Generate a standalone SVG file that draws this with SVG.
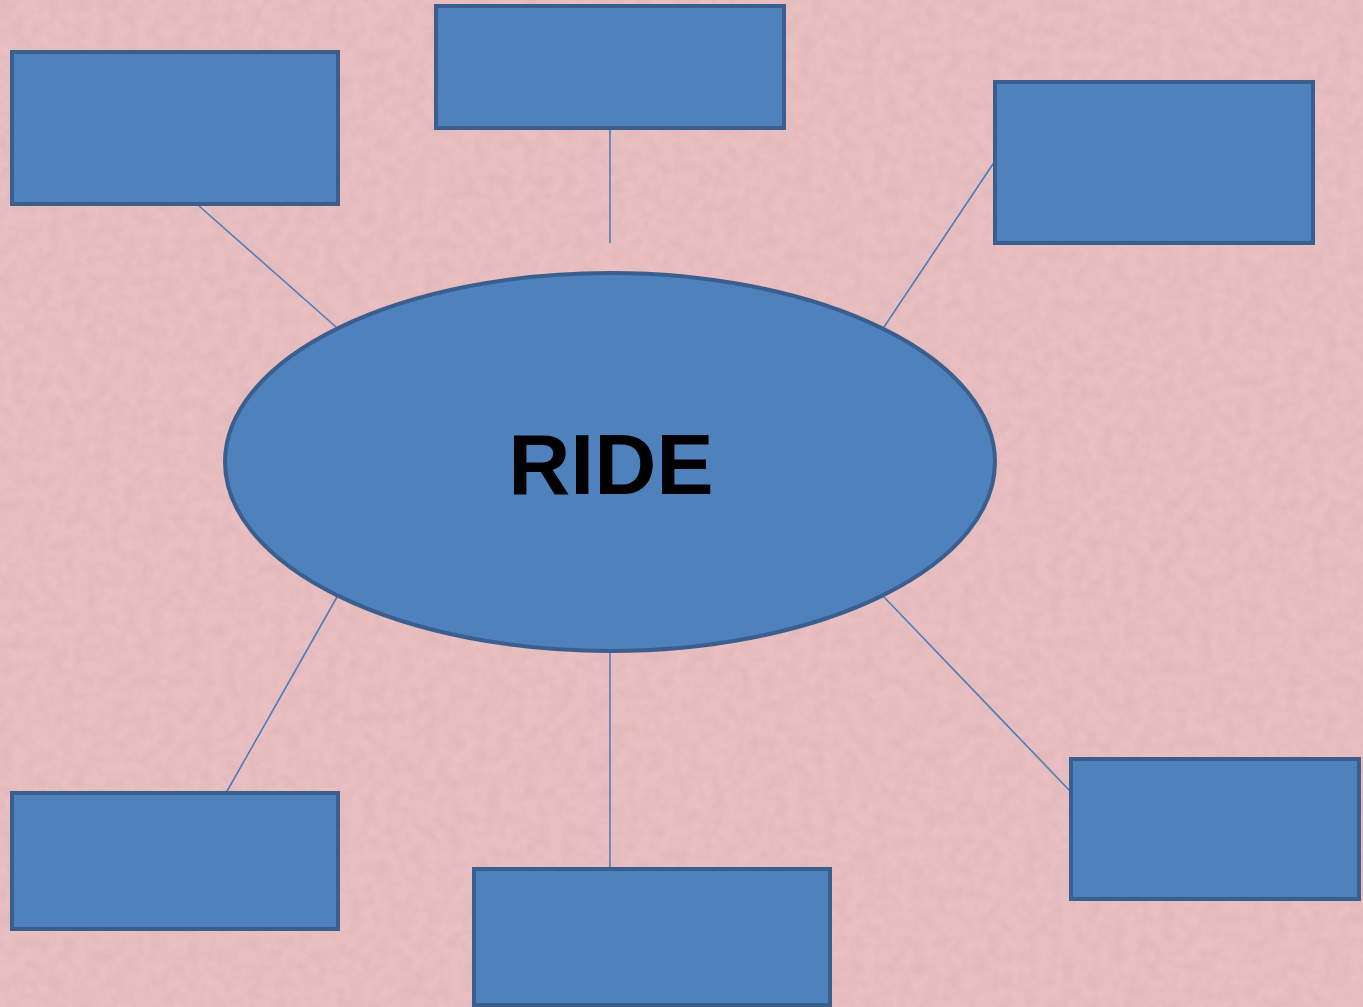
<svg xmlns="http://www.w3.org/2000/svg" width="1363" height="1007" viewBox="0 0 1363 1007">
  <style>
    .box { fill: #4f81bd; stroke: #3a5f8f; stroke-width: 4; }
    .hub { fill: #4f81bd; stroke: #3a5f8f; stroke-width: 4; }
    .link { stroke: #4a7ebb; stroke-width: 1.6; fill: none; }
    .label { font-family: "Liberation Sans", Arial, sans-serif; font-weight: bold; font-size: 86px; fill: #000; }
  </style>
  <defs>
    <filter id="paper" x="0" y="0" width="100%" height="100%">
      <feTurbulence type="fractalNoise" baseFrequency="0.08" numOctaves="3" seed="4" result="n"/>
      <feColorMatrix type="matrix" values="0 0 0 0 0.55  0 0 0 0 0.35  0 0 0 0 0.37  0 0 0 -1.1 0.75" in="n"/>
    </filter>
  </defs>
  <rect x="0" y="0" width="1363" height="1007" fill="#e9bfc1"/>
  <rect x="0" y="0" width="1363" height="1007" filter="url(#paper)" opacity="0.35"/>
  <g id="connectors">
    <line class="link" x1="198" y1="205" x2="336" y2="327"/>
    <line class="link" x1="610" y1="128" x2="610" y2="243"/>
    <line class="link" x1="995" y1="161" x2="884" y2="327"/>
    <line class="link" x1="884" y1="597" x2="1070" y2="791"/>
    <line class="link" x1="610" y1="652" x2="610" y2="869"/>
    <line class="link" x1="337" y1="597" x2="226" y2="793"/>
  </g>
  <g id="hub">
    <ellipse class="hub" cx="610" cy="462" rx="385" ry="189"/>
    <text class="label" x="611" y="494" text-anchor="middle">RIDE</text>
  </g>
  <g id="box-top-left"><rect class="box" x="12" y="52" width="326" height="152"/></g>
  <g id="box-top"><rect class="box" x="436" y="6" width="348" height="122"/></g>
  <g id="box-top-right"><rect class="box" x="995" y="82" width="318" height="161"/></g>
  <g id="box-bottom-right"><rect class="box" x="1071" y="759" width="288" height="140"/></g>
  <g id="box-bottom-left"><rect class="box" x="12" y="793" width="326" height="136"/></g>
  <g id="box-bottom"><rect class="box" x="474" y="869" width="356" height="136"/></g>
</svg>
